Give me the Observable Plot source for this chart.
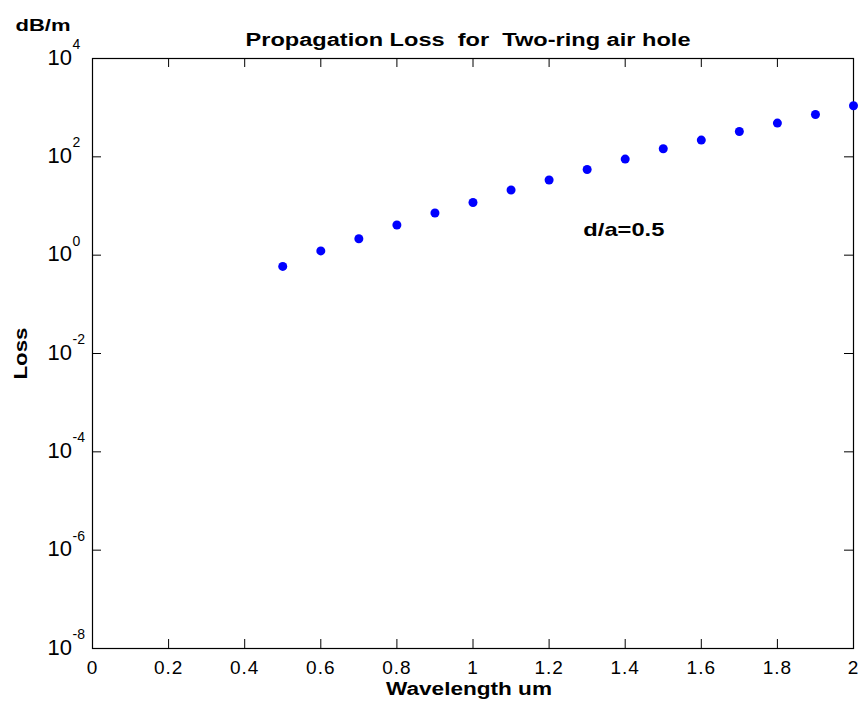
<!DOCTYPE html>
<html>
<head>
<meta charset="utf-8">
<script src="https://cdn.jsdelivr.net/npm/d3@7"></script>
<script src="https://cdn.jsdelivr.net/npm/@observablehq/plot@0.6"></script>
<style>
  html, body { margin: 0; padding: 0; background: #fff; }
  svg text { white-space: pre; }
</style>
</head>
<body>
<div id="chart"></div>
<script>
const wavelength = [0.5, 0.6, 0.7, 0.8, 0.9, 1.0, 1.1, 1.2, 1.3, 1.4, 1.5, 1.6, 1.7, 1.8, 1.9, 2.0];
const loss = [0.59, 1.22, 2.16, 4.11, 7.2, 11.8, 21.1, 33.8, 55.4, 90, 146, 219, 328, 486, 727, 1093];
const xTickValues = [0, 0.2, 0.4, 0.6, 0.8, 1, 1.2, 1.4, 1.6, 1.8, 2];
const yTickExponents = [-8, -6, -4, -2, 0, 2, 4];
const titleText = "Propagation Loss  for  Two-ring air hole";
const xLabel = "Wavelength um";
const yLabel = "Loss";
const unitLabel = "dB/m";
const annotation = "d/a=0.5";

const data = wavelength.map((w, i) => ({w, loss: loss[i]}));
const xInner = xTickValues.slice(1, -1);
const yInner = yTickExponents.slice(1, -1);

const W = 864, H = 711;
const mL = 92, mR = 11, mT = 58, mB = 63;
const innerW = W - mL - mR, innerH = H - mT - mB;
const tick = 9;
const font = "Arial, 'Liberation Sans', sans-serif";

const chart = Plot.plot({
  width: W, height: H,
  marginLeft: mL, marginRight: mR, marginTop: mT, marginBottom: mB,
  style: {fontFamily: font, color: "black", background: "white", overflow: "visible"},
  x: {domain: [0, 2]},
  y: {type: "log", domain: [1e-8, 1e4], axis: null},
  marks: [
    Plot.frame({stroke: "black", strokeWidth: 1.2}),
    Plot.ruleX(xInner, {x: d => d, insetTop: innerH - tick, stroke: "black"}),
    Plot.ruleX(xInner, {x: d => d, insetBottom: innerH - tick, stroke: "black"}),
    Plot.ruleY(yInner, {y: d => 10 ** d, insetRight: innerW - tick, stroke: "black"}),
    Plot.ruleY(yInner, {y: d => 10 ** d, insetLeft: innerW - tick, stroke: "black"}),
    Plot.axisX({ticks: xTickValues, tickSize: 0, tickPadding: 12, fontSize: 19,
      tickFormat: d => String(+d.toFixed(1)), label: null}),
    Plot.text(yTickExponents, {y: d => 10 ** d, text: () => "10", frameAnchor: "left",
      textAnchor: "start", dx: -45, dy: -1, fontSize: 22}),
    Plot.text(yTickExponents, {y: d => 10 ** d, text: d => String(d), frameAnchor: "left",
      textAnchor: "start", dx: -20, dy: -14, fontSize: 14}),
    Plot.dot(data, {x: "w", y: "loss", r: 4.5, fill: "#0000ff", stroke: null}),
    Plot.text([annotation], {x: () => 1.29, y: () => 3.2, textAnchor: "start",
      fontWeight: "bold", fontSize: 19}),
    Plot.text([titleText], {frameAnchor: "top", dx: -5, dy: -25, fontWeight: "bold", fontSize: 18}),
    Plot.text([unitLabel], {frameAnchor: "top-left", textAnchor: "start", dx: -77, dy: -40,
      fontWeight: "bold", fontSize: 17}),
    Plot.text([yLabel], {frameAnchor: "left", dx: -72, dy: 26, rotate: -90, fontWeight: "bold", fontSize: 19}),
    Plot.text([xLabel], {frameAnchor: "bottom", dx: -4, dy: 46, fontWeight: "bold", fontSize: 18})
  ]
});
document.getElementById("chart").appendChild(chart);

// widen bold labels along the text direction to match the reference lettering
const targetLength = new Map([
  [titleText, 445], [xLabel, 166], [unitLabel, 55], [annotation, 81], [yLabel, 52]
]);
d3.select(chart).selectAll("text").each(function() {
  const t = this.textContent;
  if (!targetLength.has(t)) return;
  this.setAttribute("textLength", targetLength.get(t));
  this.setAttribute("lengthAdjust", "spacingAndGlyphs");
});
d3.select(chart).selectAll("g[aria-label='x-axis tick label'] text").attr("letter-spacing", 1);
</script>
</body>
</html>
